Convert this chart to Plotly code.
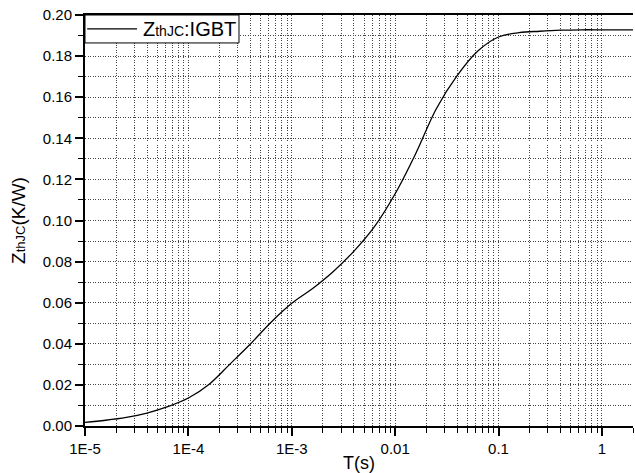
import plotly.graph_objects as go

# Data (time in s, Zth in K/W)
t_values = [1.0e-5, 1.58e-5, 2.51e-5, 3.98e-5, 6.31e-5, 1.0e-4, 1.58e-4, 2.51e-4, 3.98e-4,
            6.31e-4, 1.0e-3, 1.58e-3, 2.51e-3, 3.98e-3, 6.31e-3, 1.0e-2, 1.58e-2, 2.51e-2,
            3.98e-2, 6.31e-2, 0.1, 0.158, 0.251, 0.398, 0.631, 1.0, 2.0]
zth_values = [0.0018, 0.0028, 0.0042, 0.0063, 0.0094, 0.0136, 0.0202, 0.0300, 0.0399,
              0.0505, 0.0597, 0.0668, 0.0751, 0.0850, 0.0970, 0.1130, 0.1325, 0.1545,
              0.1705, 0.1825, 0.1893, 0.1914, 0.1921, 0.1926, 0.1928, 0.1928, 0.1928]

x_tickvals = [1e-5, 1e-4, 1e-3, 1e-2, 1e-1, 1]
x_ticktext = ["1E-5", "1E-4", "1E-3", "0.01", "0.1", "1"]
y_tickvals = [0.00, 0.02, 0.04, 0.06, 0.08, 0.10, 0.12, 0.14, 0.16, 0.18, 0.20]
y_ticktext = ["0.00", "0.02", "0.04", "0.06", "0.08", "0.10", "0.12", "0.14", "0.16", "0.18", "0.20"]
legend_label = 'Z<span style="font-size:14px">thJC</span>:IGBT'

FONT = "Liberation Sans, Arial, sans-serif"
GRID = "#444444"
GDASH = "1px,1.5px"

fig = go.Figure()
fig.add_trace(go.Scatter(
    x=t_values, y=zth_values, mode="lines",
    line=dict(color="black", width=1.3, shape="spline", smoothing=1.0),
    name=legend_label, showlegend=False,
))

# legend drawn as a box, a line sample and a text
fig.add_shape(type="rect", xref="paper", yref="paper",
              x0=0, x1=0.281, y0=0.932, y1=1.0,
              line=dict(color="black", width=1), fillcolor="white", layer="above")
fig.add_shape(type="line", xref="paper", yref="paper",
              x0=0.004, x1=0.095, y0=0.966, y1=0.966,
              line=dict(color="black", width=1.3), layer="above")
fig.add_annotation(xref="paper", yref="paper", x=0.103, y=0.966,
                   xanchor="left", yanchor="middle", showarrow=False,
                   text=legend_label, font=dict(size=20, family=FONT, color="black"))

fig.update_layout(
    width=635, height=473,
    margin=dict(l=85, r=2, t=15, b=47),
    paper_bgcolor="white", plot_bgcolor="white",
    font=dict(family=FONT, color="black", size=15),
    showlegend=False,
    xaxis=dict(
        type="log", range=[-5, 0.30103],
        tickvals=x_tickvals, ticktext=x_ticktext,
        ticks="outside", ticklen=8, tickwidth=1.5, tickcolor="black",
        showline=True, linecolor="black", linewidth=2, mirror=True,
        showgrid=True, gridcolor=GRID, griddash=GDASH, gridwidth=1,
        zeroline=False, automargin=False,
        tickfont=dict(size=15, family=FONT),
        title=dict(text="T(s)", font=dict(size=18, family=FONT), standoff=0),
        minor=dict(ticks="outside", ticklen=5, tickwidth=1, tickcolor="black",
                   showgrid=True, gridcolor=GRID, griddash=GDASH, gridwidth=1,
                   dtick="D1"),
    ),
    yaxis=dict(
        range=[0, 0.20],
        tickvals=y_tickvals, ticktext=y_ticktext,
        ticks="outside", ticklen=8, tickwidth=1.5, tickcolor="black",
        showline=True, linecolor="black", linewidth=2, mirror=False,
        showgrid=True, gridcolor=GRID, griddash=GDASH, gridwidth=1,
        zeroline=False, automargin=False,
        tickfont=dict(size=15, family=FONT),
        title=dict(text='Z<span style="font-size:13px">thJC</span>(K/W)',
                   font=dict(size=19, family=FONT), standoff=12),
        minor=dict(ticks="outside", ticklen=5, tickwidth=1, tickcolor="black",
                   showgrid=True, gridcolor=GRID, griddash=GDASH, gridwidth=1,
                   dtick=0.01),
    ),
)

fig.write_html("out.html", config={"displayModeBar": False},
               post_script="document.body.style.margin='0px';")
